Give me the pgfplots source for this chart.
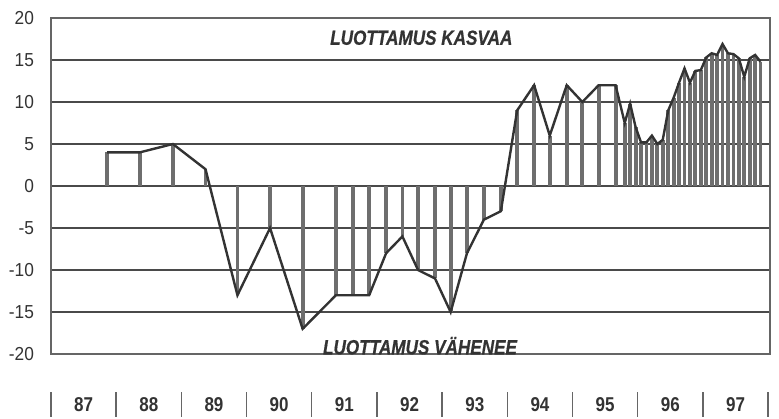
\documentclass[border=0pt]{standalone}
\usepackage{fontspec}
\setmainfont{Liberation Sans}
\newfontfamily\condfont{Liberation Sans}[FakeStretch=0.85]
\newfontfamily\annfont{Liberation Sans}[FakeStretch=0.84, FakeBold=0.6]
\newfontfamily\tickfont{Liberation Sans}[FakeStretch=0.92]
\usepackage{pgfplots}
\pgfplotsset{compat=1.18}
\usepackage{pgfplotstable}

% x = years since start of 1987 (87 box spans 0..1)
\pgfplotstableread{
x y
0.86 4
1.36 4
1.87 5
2.37 2
2.86 -13
3.36 -5
3.86 -17
4.37 -13
4.63 -13
4.88 -13
5.14 -8
5.39 -6
5.63 -10
5.89 -11
6.13 -15
6.38 -8
6.64 -4
6.90 -3
7.15 9
7.41 12
7.65 6
7.91 12
8.15 10
8.40 12
8.66 12
8.800 7.5
8.883 9.8
8.967 7
9.050 5.2
9.133 5.2
9.217 6
9.300 5
9.383 5.5
9.467 9
9.550 10.5
9.633 12.3
9.717 14
9.800 12.3
9.883 13.7
9.967 13.8
10.050 15.3
10.133 15.8
10.217 15.6
10.300 16.9
10.383 15.8
10.467 15.7
10.550 15.2
10.633 13
10.717 15.2
10.800 15.6
10.883 14.8
}\luottamus

\definecolor{txt}{HTML}{333333}
\definecolor{gridc}{HTML}{4A4A4A}
\definecolor{stem}{HTML}{6E6E6E}

\begin{document}
\begin{tikzpicture}
\begin{axis}[
  scale only axis, width=359.5pt, height=168pt,
  xmin=0, xmax=11.03, ymin=-20, ymax=20,
  ytick={-20,-15,-10,-5,0,5,10,15,20},
  xtick={0.5,1.5,2.5,3.5,4.5,5.5,6.5,7.5,8.5,9.5,10.5},
  xticklabels={87,88,89,90,91,92,93,94,95,96,97},
  major tick length=0pt,
  ymajorgrids,
  grid style={gridc, line width=0.9pt},
  axis line style={gridc!85, line width=0.8pt},
  /pgf/number format/assume math mode=true,
  yticklabel style={font=\tickfont\fontsize{9.4}{11}\selectfont, text=txt, xshift=-5pt},
  xticklabel style={font=\condfont\bfseries\fontsize{10}{12}\selectfont, text=txt, anchor=center, yshift=-25.5pt},
  clip=false,
]
\path (axis cs:-0.782,22.14) rectangle (axis cs:11.166,-27.5);
\addplot[ycomb, draw=stem, line width=1.9pt, no marks] table[x=x,y=y] {\luottamus};
\addplot[draw=txt, line width=1.2pt, no marks, line join=miter] table[x=x,y=y] {\luottamus};
\pgfplotsinvokeforeach{0,1,...,11}{
  \draw[black!60, line width=0.7pt] (axis cs:#1,-24.52) -- (axis cs:#1,-27.5);
}
\node[font=\annfont\bfseries\itshape\fontsize{10.2}{12}\selectfont, text=txt] at (axis cs:5.68,17.65) {LUOTTAMUS KASVAA};
\node[font=\annfont\bfseries\itshape\fontsize{10.2}{12}\selectfont, text=txt] at (axis cs:5.66,-19.0) {LUOTTAMUS VÄHENEE};
\end{axis}
\end{tikzpicture}
\end{document}
